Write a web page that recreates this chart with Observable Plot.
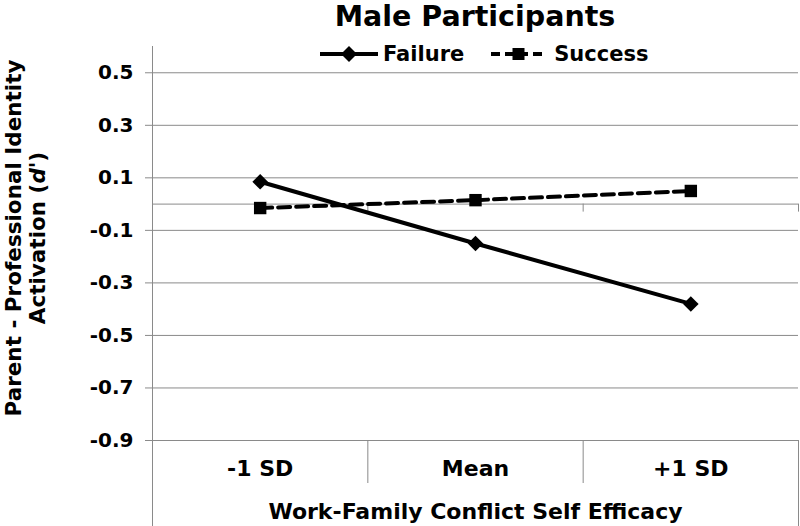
<!DOCTYPE html>
<html><head><meta charset="utf-8">
<script src="https://cdn.jsdelivr.net/npm/d3@7"></script>
<script src="https://cdn.jsdelivr.net/npm/@observablehq/plot@0.6"></script>
<style>
body{margin:0;background:#fff;font-family:"DejaVu Sans",Verdana,sans-serif;font-weight:bold;color:#000}
#wrap{position:relative;width:800px;height:526px;overflow:hidden}
#title{height:40px;line-height:33px;font-size:28.5px;margin-left:152px;width:646px;text-align:center}
#legend{position:absolute;top:42px;left:320px;height:24px;display:flex;align-items:center;font-size:21px}
#legend .item{display:flex;align-items:center}
#chart svg{display:block}
</style></head><body>
<div id="wrap"><div id="title">Male Participants</div><div id="legend"></div><div id="chart"></div></div>
<script>
const categories = ["-1 SD", "Mean", "+1 SD"];
const failure = [0.085, -0.15, -0.38];
const success = [-0.015, 0.015, 0.05];
const yTicks = [-0.9, -0.7, -0.5, -0.3, -0.1, 0.1, 0.3, 0.5];
const seriesNames = ["Failure", "Success"];
const xTitle = "Work-Family Conflict Self Efficacy";

const toRows = vals => vals.map((v, i) => ({x: i + 0.5, y: v, cat: categories[i]}));
const failRows = toRows(failure);
const succRows = toRows(success);
const bounds = d3.range(categories.length + 1);
const centers = categories.map((c, i) => i + 0.5);
const grid = "#8a8a8a";

const chart = Plot.plot({
  width: 800, height: 486,
  marginLeft: 152, marginRight: 2, marginTop: 6, marginBottom: 86,
  x: {type: "linear", domain: [0, categories.length], axis: null},
  y: {domain: [-0.9, 0.6], axis: null},
  style: {fontFamily: "DejaVu Sans, Verdana, sans-serif", fontWeight: "bold", color: "#000", background: "#fff"},
  marks: [
    Plot.gridY(yTicks, {stroke: grid, strokeOpacity: 1}),
    Plot.axisY(yTicks, {label: null, tickSize: 7, tickPadding: 12, stroke: grid, fill: "#000", fontSize: 20,
      tickFormat: d => d.toFixed(1)}),
    Plot.ruleY([0], {stroke: grid}),
    Plot.ruleX(bounds.slice(1), {y1: 0, y2: 0, insetBottom: -8, stroke: grid}),
    Plot.ruleX([bounds[0]], {stroke: grid}),
    Plot.axisX([bounds[0], bounds[bounds.length - 1]], {label: null, tickSize: 86, stroke: grid, tickFormat: () => ""}),
    Plot.axisX(bounds.slice(1, -1), {label: null, tickSize: 43, stroke: grid, tickFormat: () => ""}),
    Plot.axisX(centers, {label: null, tickSize: 0, tickPadding: 20, fontSize: 22, fill: "#000",
      tickFormat: d => categories[Math.floor(d)]}),
    Plot.text([xTitle], {frameAnchor: "bottom", dy: 71, lineAnchor: "middle", fontSize: 22, fill: "#000"}),
    Plot.line(succRows, {x: "x", y: "y", stroke: "#000", strokeWidth: 4, strokeDasharray: "12,6"}),
    Plot.line(failRows, {x: "x", y: "y", stroke: "#000", strokeWidth: 4}),
    Plot.dot(succRows, {x: "x", y: "y", symbol: "square", r: 7, fill: "#000"}),
    Plot.dot(failRows, {x: "x", y: "y", symbol: "diamond2", r: 7, fill: "#000"})
  ]
});
document.getElementById("chart").appendChild(chart);

// y-axis title (two lines, italic d)
const svg = d3.select(chart);
const yt = svg.append("text")
  .attr("transform", "translate(21,198) rotate(-90)")
  .attr("text-anchor", "middle")
  .attr("font-size", 21.5).attr("font-weight", "bold").attr("fill", "#000");
yt.append("tspan").attr("x", 0).attr("y", 0).text("Parent - Professional Identity");
const l2 = yt.append("tspan").attr("x", 0).attr("y", 24);
l2.append("tspan").text("Activation (");
l2.append("tspan").attr("font-style", "italic").text("d'");
l2.append("tspan").text(")");

// legend
const legend = d3.select("#legend");
seriesNames.forEach((name, k) => {
  const item = legend.append("div").attr("class", "item").style("margin-left", k ? "27px" : "0px");
  const w = k ? 55 : 58;
  const s = item.append("svg").attr("width", w).attr("height", 20);
  s.append("line").attr("x1", 0).attr("x2", w).attr("y1", 10).attr("y2", 10)
    .attr("stroke", "#000").attr("stroke-width", 4).attr("stroke-dasharray", k ? "9,5" : null);
  if (k) s.append("rect").attr("x", w / 2 - 6).attr("y", 4).attr("width", 12).attr("height", 12).attr("fill", "#000");
  else s.append("path").attr("d", `M${w/2},2L${w/2+8},10L${w/2},18L${w/2-8},10Z`).attr("fill", "#000");
  item.append("span").style("margin-left", k ? "8px" : "5px").text(name);
});
</script>
</body></html>
